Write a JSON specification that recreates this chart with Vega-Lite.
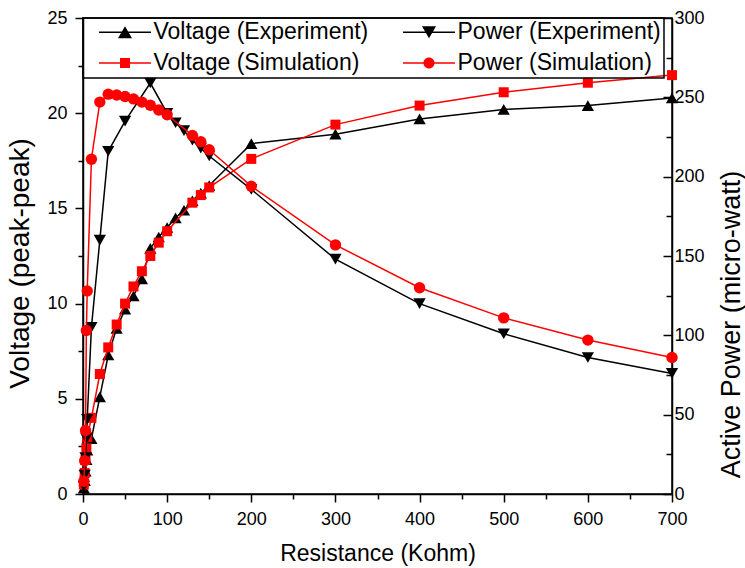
{
  "$schema": "https://vega.github.io/schema/vega-lite/v6.json",
  "width": 589,
  "height": 476,
  "autosize": "none",
  "padding": {"left": 83, "top": 18, "right": 73, "bottom": 74},
  "background": "white",
  "config": {
    "font": "Liberation Sans",
    "view": {"stroke": "black", "strokeWidth": 1.5},
    "axis": {
      "grid": false,
      "domainColor": "black",
      "domainWidth": 1.5,
      "tickColor": "black",
      "tickWidth": 1.5,
      "labelFont": "Liberation Sans",
      "labelFontSize": 18,
      "labelColor": "black",
      "labelOverlap": false,
      "labelFlush": false,
      "titleFont": "Liberation Sans",
      "titleFontSize": 23,
      "titleFontWeight": "normal",
      "titleColor": "black"
    },
    "legend": {
      "labelFont": "Liberation Sans",
      "labelFontSize": 23,
      "labelColor": "black",
      "labelLimit": 400,
      "strokeColor": "black",
      "strokeWidth": 1.5,
      "symbolStrokeWidth": 0,
      "symbolSize": 144
    }
  },
  "datasets": {
    "main": [
      {"R": 1, "s": "Voltage (Experiment)", "v": 0.3},
      {"R": 2, "s": "Voltage (Experiment)", "v": 0.7},
      {"R": 3, "s": "Voltage (Experiment)", "v": 1.2},
      {"R": 4, "s": "Voltage (Experiment)", "v": 1.8},
      {"R": 5, "s": "Voltage (Experiment)", "v": 2.3},
      {"R": 10, "s": "Voltage (Experiment)", "v": 2.9},
      {"R": 20, "s": "Voltage (Experiment)", "v": 5.1},
      {"R": 30, "s": "Voltage (Experiment)", "v": 7.3},
      {"R": 40, "s": "Voltage (Experiment)", "v": 8.7},
      {"R": 50, "s": "Voltage (Experiment)", "v": 9.7},
      {"R": 60, "s": "Voltage (Experiment)", "v": 10.4},
      {"R": 70, "s": "Voltage (Experiment)", "v": 11.3},
      {"R": 80, "s": "Voltage (Experiment)", "v": 12.9},
      {"R": 90, "s": "Voltage (Experiment)", "v": 13.5},
      {"R": 100, "s": "Voltage (Experiment)", "v": 14.0},
      {"R": 110, "s": "Voltage (Experiment)", "v": 14.5},
      {"R": 120, "s": "Voltage (Experiment)", "v": 14.9},
      {"R": 130, "s": "Voltage (Experiment)", "v": 15.4},
      {"R": 140, "s": "Voltage (Experiment)", "v": 15.8},
      {"R": 150, "s": "Voltage (Experiment)", "v": 16.2},
      {"R": 200, "s": "Voltage (Experiment)", "v": 18.4},
      {"R": 300, "s": "Voltage (Experiment)", "v": 18.9},
      {"R": 400, "s": "Voltage (Experiment)", "v": 19.7},
      {"R": 500, "s": "Voltage (Experiment)", "v": 20.2},
      {"R": 600, "s": "Voltage (Experiment)", "v": 20.4},
      {"R": 700, "s": "Voltage (Experiment)", "v": 20.8},
      {"R": 1, "s": "Voltage (Simulation)", "v": 0.5},
      {"R": 2, "s": "Voltage (Simulation)", "v": 1.1},
      {"R": 3, "s": "Voltage (Simulation)", "v": 1.8},
      {"R": 4, "s": "Voltage (Simulation)", "v": 2.4},
      {"R": 5, "s": "Voltage (Simulation)", "v": 3.0},
      {"R": 10, "s": "Voltage (Simulation)", "v": 4.0},
      {"R": 20, "s": "Voltage (Simulation)", "v": 6.3},
      {"R": 30, "s": "Voltage (Simulation)", "v": 7.7},
      {"R": 40, "s": "Voltage (Simulation)", "v": 8.9},
      {"R": 50, "s": "Voltage (Simulation)", "v": 10.0},
      {"R": 60, "s": "Voltage (Simulation)", "v": 10.9},
      {"R": 70, "s": "Voltage (Simulation)", "v": 11.7},
      {"R": 80, "s": "Voltage (Simulation)", "v": 12.5},
      {"R": 90, "s": "Voltage (Simulation)", "v": 13.2},
      {"R": 100, "s": "Voltage (Simulation)", "v": 13.8},
      {"R": 130, "s": "Voltage (Simulation)", "v": 15.3},
      {"R": 140, "s": "Voltage (Simulation)", "v": 15.7},
      {"R": 150, "s": "Voltage (Simulation)", "v": 16.1},
      {"R": 200, "s": "Voltage (Simulation)", "v": 17.6},
      {"R": 300, "s": "Voltage (Simulation)", "v": 19.4},
      {"R": 400, "s": "Voltage (Simulation)", "v": 20.4},
      {"R": 500, "s": "Voltage (Simulation)", "v": 21.1},
      {"R": 600, "s": "Voltage (Simulation)", "v": 21.6},
      {"R": 700, "s": "Voltage (Simulation)", "v": 22.0},
      {"R": 1, "s": "Power (Experiment)", "v": 5},
      {"R": 2, "s": "Power (Experiment)", "v": 12},
      {"R": 3, "s": "Power (Experiment)", "v": 23},
      {"R": 4, "s": "Power (Experiment)", "v": 35},
      {"R": 5, "s": "Power (Experiment)", "v": 47},
      {"R": 10, "s": "Power (Experiment)", "v": 105},
      {"R": 20, "s": "Power (Experiment)", "v": 160},
      {"R": 30, "s": "Power (Experiment)", "v": 216},
      {"R": 50, "s": "Power (Experiment)", "v": 235},
      {"R": 80, "s": "Power (Experiment)", "v": 259},
      {"R": 100, "s": "Power (Experiment)", "v": 240},
      {"R": 110, "s": "Power (Experiment)", "v": 234},
      {"R": 120, "s": "Power (Experiment)", "v": 229},
      {"R": 130, "s": "Power (Experiment)", "v": 223},
      {"R": 140, "s": "Power (Experiment)", "v": 218},
      {"R": 150, "s": "Power (Experiment)", "v": 213},
      {"R": 200, "s": "Power (Experiment)", "v": 192},
      {"R": 300, "s": "Power (Experiment)", "v": 148},
      {"R": 400, "s": "Power (Experiment)", "v": 120},
      {"R": 500, "s": "Power (Experiment)", "v": 101},
      {"R": 600, "s": "Power (Experiment)", "v": 86},
      {"R": 700, "s": "Power (Experiment)", "v": 76},
      {"R": 1, "s": "Power (Simulation)", "v": 8},
      {"R": 2, "s": "Power (Simulation)", "v": 21},
      {"R": 3, "s": "Power (Simulation)", "v": 40},
      {"R": 4, "s": "Power (Simulation)", "v": 103},
      {"R": 5, "s": "Power (Simulation)", "v": 128},
      {"R": 10, "s": "Power (Simulation)", "v": 211},
      {"R": 20, "s": "Power (Simulation)", "v": 247},
      {"R": 30, "s": "Power (Simulation)", "v": 252},
      {"R": 40, "s": "Power (Simulation)", "v": 251.5},
      {"R": 50, "s": "Power (Simulation)", "v": 250.5},
      {"R": 60, "s": "Power (Simulation)", "v": 249},
      {"R": 70, "s": "Power (Simulation)", "v": 247},
      {"R": 80, "s": "Power (Simulation)", "v": 245},
      {"R": 90, "s": "Power (Simulation)", "v": 242},
      {"R": 100, "s": "Power (Simulation)", "v": 239},
      {"R": 130, "s": "Power (Simulation)", "v": 226},
      {"R": 140, "s": "Power (Simulation)", "v": 222},
      {"R": 150, "s": "Power (Simulation)", "v": 217},
      {"R": 200, "s": "Power (Simulation)", "v": 194},
      {"R": 300, "s": "Power (Simulation)", "v": 157},
      {"R": 400, "s": "Power (Simulation)", "v": 130},
      {"R": 500, "s": "Power (Simulation)", "v": 111},
      {"R": 600, "s": "Power (Simulation)", "v": 97},
      {"R": 700, "s": "Power (Simulation)", "v": 86}
    ]
  },
  "resolve": {"scale": {"y": "independent"}},
  "layer": [
    {
      "data": {"name": "main"},
      "transform": [{"filter": "indexof(datum.s, 'Voltage') === 0"}],
      "encoding": {
        "x": {
          "field": "R", "type": "quantitative",
          "scale": {"domain": [0, 700], "nice": false, "zero": false},
          "axis": {
            "values": [0, 50, 100, 150, 200, 250, 300, 350, 400, 450, 500, 550, 600, 650, 700],
            "labelExpr": "datum.value % 100 === 0 ? datum.label : ''",
            "tickSize": {"condition": {"test": "datum.value % 100 === 0", "value": 8}, "value": 5},
            "labelPadding": 8,
            "title": "Resistance (Kohm)",
            "titlePadding": 14
          }
        },
        "y": {
          "field": "v", "type": "quantitative",
          "scale": {"domain": [0, 25], "nice": false},
          "axis": {
            "orient": "left",
            "values": [0, 2.5, 5, 7.5, 10, 12.5, 15, 17.5, 20, 22.5, 25],
            "labelExpr": "datum.value % 5 === 0 ? datum.label : ''",
            "tickSize": {"condition": {"test": "datum.value % 5 === 0", "value": 8}, "value": 5},
            "labelPadding": 8,
            "title": "Voltage (peak-peak)",
            "titleFontSize": 28,
            "titleY": 245,
            "titlePadding": 12
          }
        }
      },
      "layer": [
        {"transform": [{"filter": "datum.s === 'Voltage (Experiment)'"}], "mark": {"type": "line", "color": "black", "strokeWidth": 1.5}},
        {"transform": [{"filter": "datum.s === 'Voltage (Experiment)'"}], "mark": {"type": "point", "shape": "triangle-up", "filled": true, "color": "black", "size": 150, "opacity": 1}},
        {"transform": [{"filter": "datum.s === 'Voltage (Simulation)'"}], "mark": {"type": "line", "color": "#ff0000", "strokeWidth": 1.5}},
        {"transform": [{"filter": "datum.s === 'Voltage (Simulation)'"}], "mark": {"type": "point", "shape": "square", "filled": true, "color": "#ff0000", "size": 100, "opacity": 1}}
      ]
    },
    {
      "data": {"name": "main"},
      "transform": [{"filter": "indexof(datum.s, 'Power') === 0"}],
      "encoding": {
        "x": {"field": "R", "type": "quantitative", "scale": {"domain": [0, 700], "nice": false, "zero": false}},
        "y": {
          "field": "v", "type": "quantitative",
          "scale": {"domain": [0, 300], "nice": false},
          "axis": {
            "orient": "right",
            "values": [0, 25, 50, 75, 100, 125, 150, 175, 200, 225, 250, 275, 300],
            "labelExpr": "datum.value % 50 === 0 ? datum.label : ''",
            "tickSize": {"condition": {"test": "datum.value % 50 === 0", "value": -9}, "value": -6},
            "labelPadding": 11,
            "title": "Active Power (micro-watt)",
            "titleFontSize": 27,
            "titleAngle": 270,
            "titleY": 306,
            "titlePadding": 41
          }
        }
      },
      "layer": [
        {"transform": [{"filter": "datum.s === 'Power (Experiment)'"}], "mark": {"type": "line", "color": "black", "strokeWidth": 1.5}},
        {"transform": [{"filter": "datum.s === 'Power (Experiment)'"}], "mark": {"type": "point", "shape": "triangle-down", "filled": true, "color": "black", "size": 150, "opacity": 1}},
        {"transform": [{"filter": "datum.s === 'Power (Simulation)'"}], "mark": {"type": "line", "color": "#ff0000", "strokeWidth": 1.5}},
        {"transform": [{"filter": "datum.s === 'Power (Simulation)'"}], "mark": {"type": "point", "shape": "circle", "filled": true, "color": "#ff0000", "size": 130, "opacity": 1}}
      ]
    },
    {
      "data": {"values": []},
      "mark": {"type": "point", "filled": true, "size": 144, "opacity": 1},
      "encoding": {
        "color": {
          "field": "s", "type": "nominal",
          "scale": {
            "domain": ["Voltage (Experiment)", "Voltage (Simulation)", "Power (Experiment)", "Power (Simulation)"],
            "range": ["black", "#ff0000", "black", "#ff0000"]
          },
          "legend": {
            "title": null,
            "orient": "none",
            "legendX": 0,
            "legendY": 0,
            "columns": 2,
            "gridAlign": "all",
            "padding": 2.5,
            "rowPadding": 7,
            "columnPadding": 21,
            "symbolOffset": 28,
            "labelOffset": 17
          }
        },
        "shape": {
          "field": "s", "type": "nominal",
          "scale": {
            "domain": ["Voltage (Experiment)", "Voltage (Simulation)", "Power (Experiment)", "Power (Simulation)"],
            "range": [
              "M-4.33,-0.125H4.33V0.125H-4.33Z M0,-1L1.17,1L-1.17,1Z",
              "M-4.33,-0.125H4.33V0.125H-4.33Z M-0.83,-0.83H0.83V0.83H-0.83Z",
              "M-4.33,-0.125H4.33V0.125H-4.33Z M-1.17,-1H1.17L0,1Z",
              "M-4.33,-0.125H4.33V0.125H-4.33Z M0.92,0A0.92,0.92 0 1,1 -0.92,0A0.92,0.92 0 1,1 0.92,0Z"
            ]
          },
          "legend": {
            "title": null,
            "orient": "none",
            "legendX": 0,
            "legendY": 0,
            "columns": 2,
            "gridAlign": "all",
            "padding": 2.5,
            "rowPadding": 7,
            "columnPadding": 21,
            "symbolOffset": 28,
            "labelOffset": 17
          }
        }
      }
    }
  ]
}
